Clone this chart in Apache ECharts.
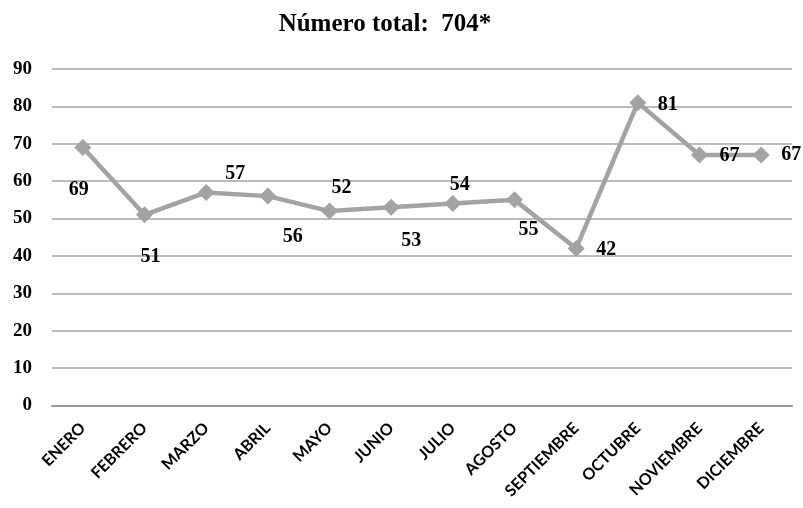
<!DOCTYPE html>
<html>
<head>
<meta charset="utf-8">
<script src="https://cdn.jsdelivr.net/npm/echarts@6/dist/echarts.min.js"></script>
<style>
  html, body { margin: 0; padding: 0; background: #ffffff; }
  #chart { width: 803px; height: 508px; }
</style>
</head>
<body>
<div id="chart"></div>
<script>
// Monthly totals
const months = ['ENERO', 'FEBRERO', 'MARZO', 'ABRIL', 'MAYO', 'JUNIO', 'JULIO',
                'AGOSTO', 'SEPTIEMBRE', 'OCTUBRE', 'NOVIEMBRE', 'DICIEMBRE'];
const totals = [69, 51, 57, 56, 52, 53, 54, 55, 42, 81, 67, 67];
const titleText = 'Número total:  704*';
const yTicks = [0, 10, 20, 30, 40, 50, 60, 70, 80, 90];

// Where each value label sits relative to its marker (px offsets)
const labelOffsets = [
  [-4, 42], [6, 42], [29, -19], [25, 41], [12, -23], [20, 33],
  [7, -19], [14, 30], [30, 1], [30, 2], [30, 1], [30, 0]
];

const serif = '"Liberation Serif", "Times New Roman", serif';

const chart = echarts.init(document.getElementById('chart'));
chart.setOption({
  animation: false,
  backgroundColor: '#ffffff',
  title: {
    text: titleText,
    left: 380,
    top: 7,
    textAlign: 'center',
    textStyle: { fontFamily: serif, fontWeight: 'bold', fontSize: 25, color: '#000' }
  },
  grid: { left: 52, right: 11, top: 69, bottom: 102.5, containLabel: false },
  xAxis: {
    type: 'category',
    data: months,
    boundaryGap: true,
    axisLine: { show: true, lineStyle: { color: '#999999', width: 2 } },
    axisTick: { show: false },
    axisLabel: {
      rotate: 45,
      margin: 20,
      interval: 0,
      fontFamily: 'Lato, "Open Sans", sans-serif',
      fontWeight: 'bold',
      fontSize: 16,
      color: '#000'
    }
  },
  yAxis: {
    type: 'value',
    min: yTicks[0],
    max: yTicks[yTicks.length - 1],
    interval: 10,
    axisLine: { show: false },
    axisTick: { show: false },
    splitLine: { lineStyle: { color: '#a6a6a6', width: 1.5 } },
    axisLabel: {
      margin: 20,
      fontFamily: serif,
      fontWeight: 'bold',
      fontSize: 19,
      color: '#000'
    }
  },
  series: [{
    type: 'line',
    data: totals.map((v, i) => ({
      value: v,
      label: { offset: labelOffsets[i] }
    })),
    symbol: 'diamond',
    symbolSize: 17,
    lineStyle: { color: '#a3a3a3', width: 4.5 },
    itemStyle: { color: '#a3a3a3' },
    label: {
      show: true,
      position: 'inside',
      align: 'center',
      verticalAlign: 'middle',
      fontFamily: serif,
      fontWeight: 'bold',
      fontSize: 20,
      color: '#000'
    },
    z: 3
  }]
});
</script>
</body>
</html>
